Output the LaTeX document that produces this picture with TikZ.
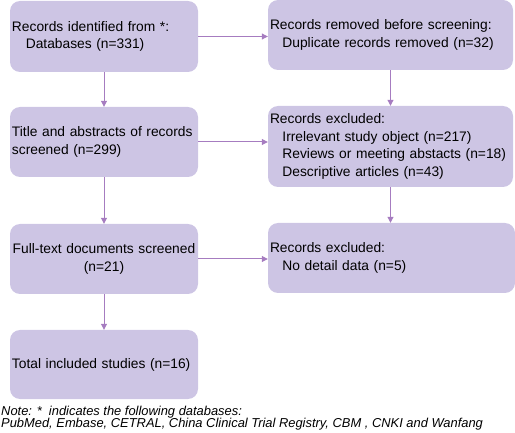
\documentclass[tikz,border=0pt]{standalone}
\usepackage{fontspec}
\setmainfont{Liberation Sans}
\usetikzlibrary{arrows.meta}
\definecolor{boxfill}{RGB}{205,197,228}
\definecolor{flowline}{RGB}{166,124,192}
\tikzset{
    box/.style={fill=boxfill, rounded corners=10pt, inner xsep=2pt, inner ysep=3pt, align=left,
        font=\fontsize{13.8}{17.5}\selectfont},
    flow/.style={draw=flowline, line width=1pt, -{Triangle[width=6pt,length=6pt]}}
}
\begin{document}
\begin{tikzpicture}[x=1pt, y=-1pt]
        \useasboundingbox (0,0) rectangle (515,433);

        % left column
        \node[box, minimum width=188pt, minimum height=71pt, text width=184pt] (ident) at (104,36.5) {\mbox{Records identified from *:}\\\mbox{\hspace*{1em}Databases (n=331)}};
        \node[box, minimum width=188pt, minimum height=70pt, text width=184pt] (screen) at (104,142) {\mbox{Title and abstracts of records}\\\mbox{screened (n=299)}};
        \node[box, minimum width=188pt, minimum height=70pt, text width=184pt, align=center] (full) at (104,259) {\mbox{Full-text documents screened}\\\mbox{(n=21)}};
        \node[box, minimum width=188pt, minimum height=69pt, text width=184pt] (total) at (104,364.5) {\mbox{Total included studies (n=16)}};

        % right column
        \node[box, minimum width=245pt, minimum height=70pt, text width=241pt] (removed) at (390.5,35) {\mbox{Records removed before screening:}\\\mbox{\hspace*{0.9em}Duplicate records removed (n=32)}};
        \node[box, minimum width=245pt, minimum height=81pt, text width=241pt] (excluded) at (390.5,146.5) {\mbox{Records excluded:}\\\mbox{\hspace*{0.9em}Irrelevant study object (n=217)}\\\mbox{\hspace*{0.9em}Reviews or meeting abstacts (n=18)}\\\mbox{\hspace*{0.9em}Descriptive articles (n=43)}};
        \node[box, minimum width=247pt, minimum height=70pt, text width=243pt] (nodetail) at (391.5,258) {\mbox{Records excluded:}\\\mbox{\hspace*{0.9em}No detail data (n=5)}};

        \draw[flow] (ident) -- (screen);
        \draw[flow] (screen) -- (full);
        \draw[flow] (full) -- (total);
        \draw[flow] (removed) -- (excluded);
        \draw[flow] (excluded.south) -- (excluded.south |- nodetail.north);
        \draw[flow] (ident.east) -- (ident.east -| removed.west);
        \draw[flow] (screen.east) -- (screen.east -| excluded.west);
        \draw[flow] (full.east) -- (full.east -| nodetail.west);

        \node[anchor=north west, inner sep=0pt, align=left, font=\fontsize{12.9}{12.5}\selectfont\itshape] (note) at (1,405.5) {Note: *~ indicates the following databases:\\PubMed, Embase, CETRAL, China Clinical Trial Registry, CBM , CNKI and Wanfang};
    \end{tikzpicture}
\end{document}
